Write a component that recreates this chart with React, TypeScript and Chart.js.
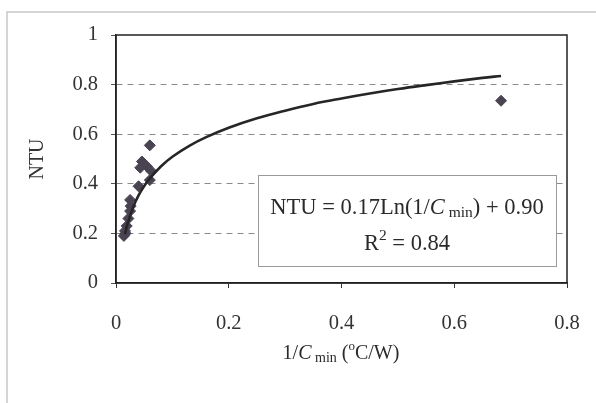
import React, { useEffect, useRef } from "react";
import { Chart, registerables } from "chart.js";

Chart.register(...registerables);

// Measured points: 1/Cmin (°C/W) vs NTU
const invCmin = [0.060, 0.046, 0.055, 0.043, 0.063, 0.060, 0.040, 0.025, 0.026, 0.025, 0.022, 0.019, 0.016, 0.017, 0.014, 0.683];
const ntu = [0.555, 0.49, 0.47, 0.465, 0.45, 0.415, 0.39, 0.335, 0.31, 0.29, 0.26, 0.23, 0.21, 0.2, 0.19, 0.735];

// Logarithmic trendline
const trendX = [0.016, 0.02, 0.03, 0.04, 0.05, 0.06, 0.08, 0.1, 0.13, 0.16, 0.2, 0.25, 0.3, 0.35, 0.4, 0.45, 0.5, 0.55, 0.6, 0.65, 0.683];
const trendY = [0.197, 0.235, 0.304, 0.353, 0.391, 0.422, 0.471, 0.509, 0.553, 0.588, 0.626, 0.664, 0.695, 0.722, 0.744, 0.764, 0.782, 0.798, 0.813, 0.827, 0.835];

const xTicks = [0, 0.2, 0.4, 0.6, 0.8];
const yTicks = [0, 0.2, 0.4, 0.6, 0.8, 1];

const SERIF = "'Liberation Serif', 'Times New Roman', serif";

type Piece = { t: string; font: string; dy?: number };

function drawPieces(ctx: CanvasRenderingContext2D, pieces: Piece[], cx: number, y: number) {
  let total = 0;
  for (const p of pieces) {
    ctx.font = p.font;
    total += ctx.measureText(p.t).width;
  }
  let x = cx - total / 2;
  ctx.textAlign = "left";
  ctx.textBaseline = "alphabetic";
  for (const p of pieces) {
    ctx.font = p.font;
    ctx.fillText(p.t, x, y + (p.dy || 0));
    x += ctx.measureText(p.t).width;
  }
}

const decorPlugin = {
  id: "decor",
  beforeDraw(chart: any) {
    const ctx = chart.ctx as CanvasRenderingContext2D;
    ctx.save();
    ctx.fillStyle = "#ffffff";
    ctx.fillRect(0, 0, chart.width, chart.height);
    ctx.strokeStyle = "#c8c8c8";
    ctx.lineWidth = 1.5;
    ctx.beginPath();
    ctx.moveTo(7, chart.height);
    ctx.lineTo(7, 12);
    ctx.lineTo(chart.width, 12);
    ctx.stroke();
    ctx.restore();
  },
  afterDraw(chart: any) {
    const ctx = chart.ctx as CanvasRenderingContext2D;
    const a = chart.chartArea;
    ctx.save();
    // plot area frame
    ctx.strokeStyle = "#222";
    ctx.lineWidth = 1.5;
    ctx.strokeRect(a.left, a.top, a.right - a.left, a.bottom - a.top);

    // equation box
    const bx = 258, by = 175, bw = 298, bh = 91;
    ctx.fillStyle = "#ffffff";
    ctx.fillRect(bx, by, bw, bh);
    ctx.strokeStyle = "#9a9a9a";
    ctx.lineWidth = 1;
    ctx.strokeRect(bx + 0.5, by + 0.5, bw, bh);

    ctx.fillStyle = "#2a2a2a";
    const f = `22.5px ${SERIF}`;
    const fi = `italic 22.5px ${SERIF}`;
    const fs = `15.5px ${SERIF}`;
    drawPieces(ctx, [
      { t: "NTU = 0.17Ln(1/", font: f },
      { t: "C", font: fi },
      { t: " min", font: fs, dy: 3 },
      { t: ") + 0.90", font: f },
    ], bx + bw / 2, 214);
    drawPieces(ctx, [
      { t: "R", font: f },
      { t: "2", font: fs, dy: -10 },
      { t: " = 0.84", font: f },
    ], bx + bw / 2, 250);

    // x-axis title
    drawPieces(ctx, [
      { t: "1/", font: `20px ${SERIF}` },
      { t: "C", font: `italic 20px ${SERIF}` },
      { t: " min", font: `14px ${SERIF}`, dy: 3 },
      { t: " (", font: `20px ${SERIF}` },
      { t: "o", font: `13px ${SERIF}`, dy: -9 },
      { t: "C/W)", font: `20px ${SERIF}` },
    ], 341, 359);
    ctx.restore();
  },
};

export default function App() {
  const ref = useRef<HTMLCanvasElement | null>(null);
  useEffect(() => {
    document.body.style.margin = "0";
    if (!ref.current) return;
    const chart = new Chart(ref.current, {
      type: "scatter",
      data: {
        datasets: [
          {
            type: "line",
            label: "trend",
            data: trendX.map((x, i) => ({ x, y: trendY[i] })),
            borderColor: "#262626",
            borderWidth: 2.6,
            pointRadius: 0,
            tension: 0.4,
            fill: false,
          } as any,
          {
            label: "NTU",
            data: invCmin.map((x, i) => ({ x, y: ntu[i] })),
            pointStyle: "rectRot",
            pointRadius: 5.5,
            backgroundColor: "#4a4352",
            borderColor: "#4a4352",
            borderWidth: 1,
          },
        ],
      },
      options: {
        animation: false,
        responsive: false,
        devicePixelRatio: 1,
        layout: { padding: { left: 18, right: 29, top: 35, bottom: 0 } },
        plugins: { legend: { display: false }, tooltip: { enabled: false } },
        scales: {
          x: {
            type: "linear",
            min: 0,
            max: 0.8,
            afterBuildTicks: (s: any) => { s.ticks = xTicks.map((v) => ({ value: v })); },
            afterFit: (s: any) => {
              s.height = 120;
              s.paddingLeft = 0;
              s.paddingRight = 0;
            },
            ticks: {
              color: "#333",
              font: { family: SERIF, size: 20.5 },
              padding: 23,
              callback: (v: any) => String(v),
            },
            grid: { drawOnChartArea: false, color: "#333", tickLength: 5 },
            border: { color: "#222", width: 1.5 },
          },
          y: {
            type: "linear",
            min: 0,
            max: 1,
            afterBuildTicks: (s: any) => { s.ticks = yTicks.map((v) => ({ value: v })); },
            afterFit: (s: any) => {
              s.width = 98;
              s.paddingTop = 0;
              s.paddingBottom = 0;
            },
            ticks: {
              color: "#333",
              font: { family: SERIF, size: 20.5 },
              padding: 13,
              callback: (v: any) => String(v),
            },
            grid: {
              color: (c: any) => (c.tick && (c.tick.value === 0 || c.tick.value === 1) ? "rgba(0,0,0,0)" : "#8a8a8a"),
              tickBorderDash: [],
              tickColor: "#555",
              tickLength: 5,
            } as any,
            border: { color: "#222", width: 1.5, dash: [6, 5] } as any,
            title: {
              display: true,
              text: "NTU",
              color: "#333",
              font: { family: SERIF, size: 20 },
              padding: { top: 8, bottom: 0 },
            },
          },
        },
      },
      plugins: [decorPlugin],
    });
    return () => chart.destroy();
  }, []);
  return (
    <div style={{ width: 596, height: 403 }}>
      <canvas ref={ref} width={596} height={403} style={{ display: "block" }} />
    </div>
  );
}
